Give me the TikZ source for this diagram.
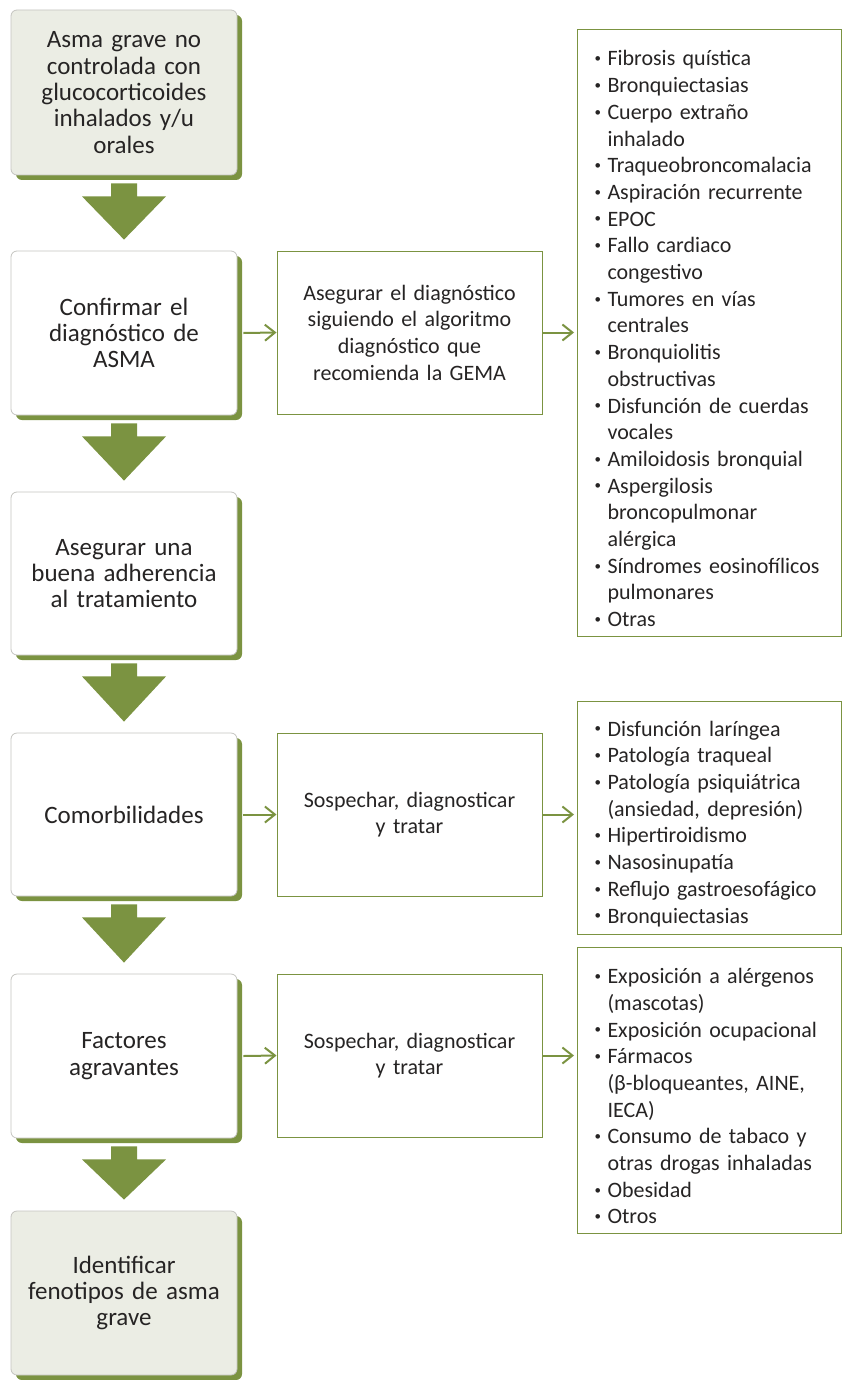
\documentclass[tikz,border=0pt]{standalone}
\usepackage{fontspec}
\setmainfont{Carlito}
\usetikzlibrary{arrows.meta,shadows,calc}
\definecolor{olv}{HTML}{7B9341}
\definecolor{boxgray}{HTML}{C4C4C0}
\definecolor{lightfill}{HTML}{EBEDE4}
\definecolor{txt}{HTML}{262424}
\newcommand\itm[1]{\par\hangindent=15pt\hangafter=1\noindent\hbox to 15pt{\hskip2pt\raisebox{0.3ex}{\fontsize{13}{13}\selectfont •}\hfil}#1}
\begin{document}
\begin{tikzpicture}[x=1pt,y=-1pt,
  fs/.style={font=\fontsize{22}{26.7}\selectfont, text=txt},
  fl/.style={font=\fontsize{25}{26.3}\selectfont, text=txt},
  mainbox/.style={fl, draw=boxgray, line width=0.8pt, rounded corners=6pt, fill=white,
    minimum width=226pt, text width=212pt, inner sep=0pt, align=center,
    drop shadow={shadow xshift=5pt, shadow yshift=-5pt, fill=olv, opacity=1}},
  lightbox/.style={mainbox, fill=lightfill},
  midbox/.style={fs, draw=olv, line width=1pt, minimum width=265pt, minimum height=163pt,
    text width=255pt, inner sep=0pt, align=center},
  listbox/.style={fs, draw=olv, line width=1pt, anchor=north west, minimum width=264pt,
    text width=234pt, inner xsep=15pt, inner ysep=0pt, align=left},
  conn/.style={olv, line width=2pt, -{Straight Barb[length=10pt,width=16pt,line width=2pt]}},
  bigarr/.style={fill=olv}
]
\useasboundingbox (0,0) rectangle (844,1380);

\node[lightbox, minimum height=165pt] (b1) at (124,92.5) {Asma grave no\\controlada con\\glucocorticoides\\inhalados y/u\\orales};
\node[mainbox, minimum height=164pt] (b2) at (124,333) {Confirmar el\\diagnóstico de\\ASMA};
\node[mainbox, minimum height=163pt] (b3) at (124,573.5) {Asegurar una\\buena adherencia\\al tratamiento};
\node[mainbox, minimum height=163pt] (b4) at (124,814.5) {Comorbilidades};
\node[mainbox, minimum height=164pt] (b5) at (124,1056) {Factores\\agravantes};
\node[lightbox, minimum height=164pt] (b6) at (124,1293) {Identificar\\fenotipos de asma\\grave};

\foreach \a/\b in {b1/b2,b2/b3,b3/b4,b4/b5,b5/b6}{
  \fill[bigarr] ($(\a.south)+(-13,8)$) -- ($(\a.south)+(13,8)$) -- ($(\a.south)+(13,21)$)
    -- ($(\a.south)+(42,21)$) -- ($(\b.north)+(0,-11)$) -- ($(\a.south)+(-42,21)$)
    -- ($(\a.south)+(-13,21)$) -- cycle;
}

\node[midbox] (m1) at (409.5,332.5) {Asegurar el diagnóstico\\siguiendo el algoritmo\\diagnóstico que\\recomienda la GEMA};
\node[midbox] (m2) at (409.5,814.5) {Sospechar, diagnosticar\\y tratar};
\node[midbox] (m3) at (409.5,1055.5) {Sospechar, diagnosticar\\y tratar};

\node[listbox, minimum height=607pt] (r1) at (577,29) {%
\itm{Fibrosis quística}
\itm{Bronquiectasias}
\itm{Cuerpo extraño\newline inhalado}
\itm{Traqueobroncomalacia}
\itm{Aspiración recurrente}
\itm{EPOC}
\itm{Fallo cardiaco\newline congestivo}
\itm{Tumores en vías\newline centrales}
\itm{Bronquiolitis\newline obstructivas}
\itm{Disfunción de cuerdas\newline vocales}
\itm{Amiloidosis bronquial}
\itm{Aspergilosis\newline broncopulmonar\newline alérgica}
\itm{Síndromes eosinofílicos\newline pulmonares}
\itm{Otras}};

\node[listbox, minimum height=233pt] (r2) at (577,701) {%
\itm{Disfunción laríngea}
\itm{Patología traqueal}
\itm{Patología psiquiátrica\newline (ansiedad, depresión)}
\itm{Hipertiroidismo}
\itm{Nasosinupatía}
\itm{Reflujo gastroesofágico}
\itm{Bronquiectasias}};

\node[listbox, minimum height=286pt] (r3) at (577,947) {%
\itm{Exposición a alérgenos\newline (mascotas)}
\itm{Exposición ocupacional}
\itm{Fármacos\newline (β-bloqueantes, AINE,\newline IECA)}
\itm{Consumo de tabaco y\newline otras drogas inhaladas}
\itm{Obesidad}
\itm{Otros}};

\draw[conn] ($(b2.east)+(6,0)$) -- (m1.west);
\draw[conn] ($(b4.east)+(6,0)$) -- (m2.west);
\draw[conn] ($(b5.east)+(6,0)$) -- (m3.west);
\draw[conn, shorten >=3pt] (m1.east) -- (m1.east -| r1.west);
\draw[conn, shorten >=3pt] (m2.east) -- (m2.east -| r2.west);
\draw[conn, shorten >=3pt] (m3.east) -- (m3.east -| r3.west);
\end{tikzpicture}
\end{document}
